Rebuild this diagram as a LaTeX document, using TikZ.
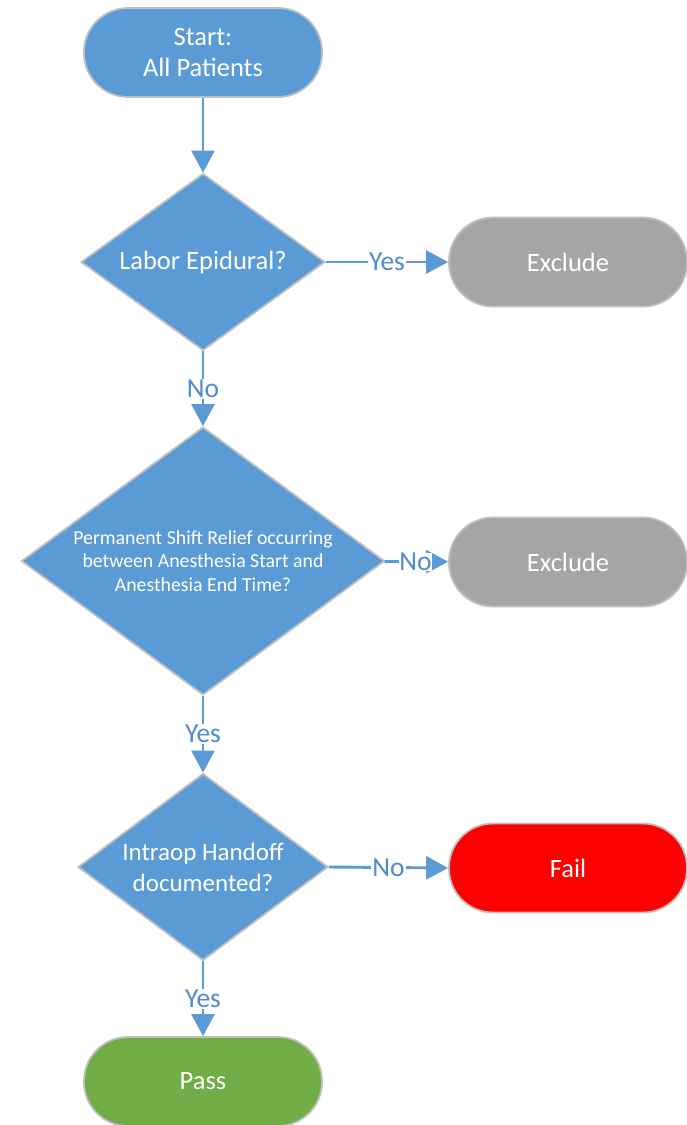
\documentclass[tikz,border=0pt]{standalone}
\usepackage{fontspec}
\setmainfont{Carlito}
\usetikzlibrary{shapes.geometric,arrows.meta}
\definecolor{fblue}{HTML}{5B9BD5}
\definecolor{fgray}{HTML}{A5A5A5}
\definecolor{fgreen}{HTML}{70AD47}
\definecolor{fred}{HTML}{FF0000}
\definecolor{fborder}{HTML}{BFBFBF}
\definecolor{flabel}{HTML}{4F8CCB}
\tikzset{
  term/.style={draw=fborder, line width=1.8pt, rounded corners=44pt, minimum width=238pt, minimum height=89pt, inner sep=0pt, text=white, font=\fontsize{26.5}{31}\selectfont, align=center},
  dec/.style={diamond, draw=fborder, line width=1.8pt, fill=fblue, inner sep=0pt},
  dtext/.style={text=white, align=center},
  conn/.style={draw=fblue, line width=2.9pt, -{Triangle[length=22pt,width=23pt]}},
  lbl/.style={fill=white, inner sep=1pt, text=flabel, font=\fontsize{27.5}{30}\selectfont}
}
\begin{document}
\begin{tikzpicture}[x=1pt,y=1pt]
\useasboundingbox (0,0) rectangle (687,-1125);
\node[term, fill=fblue] (start) at (203,-52.5) {Start:\\All Patients};
\node[dec, minimum width=244pt, minimum height=177pt] (d1) at (203,-262) {};
\node[dtext, font=\fontsize{26.5}{30}\selectfont] (t1) at (d1) {Labor Epidural?};
\node[term, fill=fgray] (ex1) at (568,-262) {Exclude};
\node[dec, minimum width=363pt, minimum height=268pt] (d2) at (203,-561) {};
\node[dtext, font=\fontsize{19.8}{23.5}\selectfont] (t2) at (d2) {Permanent Shift Relief occurring\\between Anesthesia Start and\\Anesthesia End Time?};
\node[term, fill=fgray] (ex2) at (568,-562) {Exclude};
\node[dec, minimum width=250pt, minimum height=187pt] (d3) at (203,-867) {};
\node[dtext, font=\fontsize{25}{31}\selectfont] (t3) at (d3) {Intraop Handoff\\documented?};
\node[term, fill=fred] (fail) at (568,-868) {Fail};
\node[term, fill=fgreen] (pass) at (203,-1081.5) {Pass};

\draw[conn] (start) -- (d1);
\draw[conn] (d1) -- node[lbl] (l1) {Yes} (ex1);
\draw[conn] (d1) -- node[lbl] (l2) {No} (d2);
\draw[conn] (d2) -- node[lbl, inner sep=0pt, xshift=-1pt] (l3) {No} (ex2);
\draw[conn] (d2) -- node[lbl] (l4) {Yes} (d3);
\draw[conn] (d3.east) -- node[lbl] (l5) {No} (fail.west);
\draw[conn] (d3) -- node[lbl] (l6) {Yes} (pass);
\end{tikzpicture}
\end{document}
